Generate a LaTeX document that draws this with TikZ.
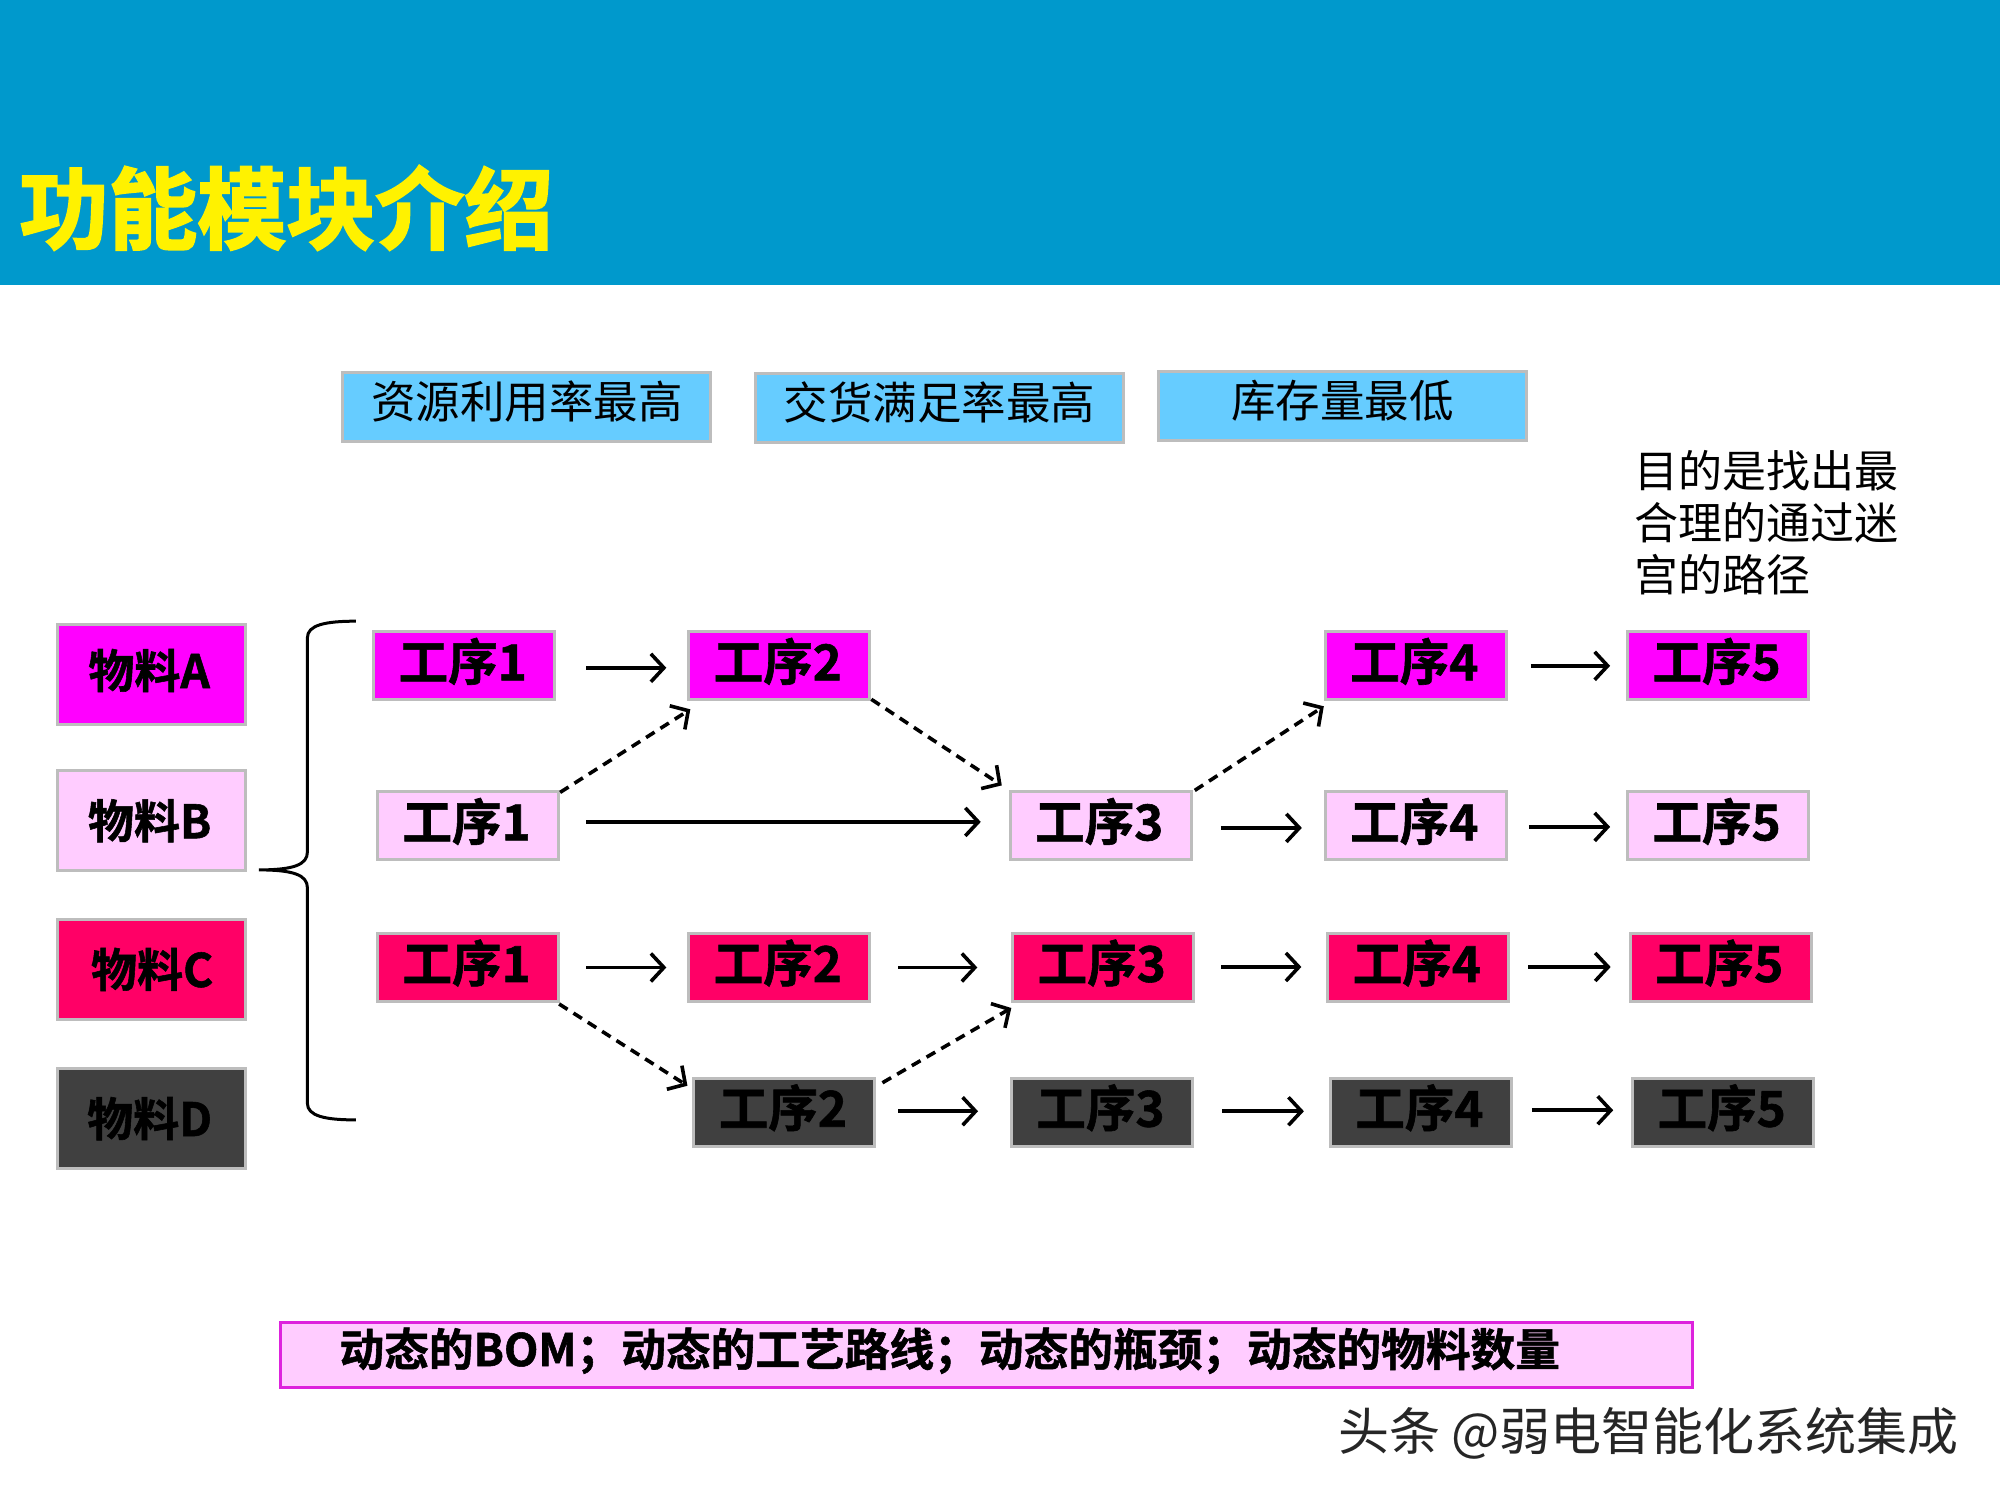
\documentclass[tikz,border=0pt]{standalone}
\usepackage{fontspec}
\setmainfont{Noto Sans CJK SC}
\newfontfamily\cjkb[FakeBold=1.2]{Noto Sans CJK SC Bold}
\newfontfamily\cjkh[FakeBold=2.2]{Noto Sans CJK SC Bold}
\usetikzlibrary{arrows.meta}
\definecolor{hdr}{HTML}{0099CC}
\definecolor{goalc}{HTML}{66CCFF}
\definecolor{mA}{HTML}{FF00FF}
\definecolor{mB}{HTML}{FFCCFF}
\definecolor{mC}{HTML}{FF0066}
\definecolor{mD}{HTML}{404040}
\definecolor{edgeg}{HTML}{BDBDBD}
\definecolor{mag}{HTML}{DD22DD}
\newcommand\up[2][14]{\raisebox{#1pt}{#2}}
\newcommand\opt[1]{\raisebox{13.5pt}{\hspace*{-3pt}#1}}
\newcommand\flow[5]{\draw[arr] ([xshift=#3pt,yshift=#5pt]#1.east) -- ([xshift=-#4pt,yshift=#5pt]#2.west);}
\tikzset{
  x=1.2755pt,y=-1.2755pt,
  goal/.style={draw=edgeg,fill=goalc,line width=3pt,minimum width=368pt,minimum height=69pt,inner sep=0pt,font=\fontsize{44.5}{48}\selectfont},
  mat/.style={draw=edgeg,line width=3pt,minimum width=188pt,minimum height=100pt,inner sep=0pt,font=\cjkb\fontsize{46}{48}\selectfont},
  op/.style={draw=edgeg,line width=3pt,minimum width=181pt,minimum height=68pt,inner sep=0pt,font=\cjkb\fontsize{49.5}{52}\selectfont},
  arr/.style={line width=3.6pt,-{Straight Barb[length=13pt,width=28pt,line width=3.6pt]}},
  dsh/.style={arr,dash pattern=on 10pt off 7pt},
  brace/.style={line width=3pt},
  plain/.style={inner sep=0pt,align=left},
}
\begin{document}
\begin{tikzpicture}
\useasboundingbox (0,0) rectangle (1568,1176);
\fill[white] (0,0) rectangle (1568,1176);
\fill[hdr] (0,0) rectangle (1568,223.5);
\node[plain,anchor=west,text=yellow,font=\cjkh\fontsize{89}{92}\selectfont] (title) at (15,163) {功能模块介绍};

\node[goal] (g1) at (413,319) {\up{资源利用率最高}};
\node[goal] (g2) at (736.5,319.5) {\up{交货满足率最高}};
\node[goal] (g3) at (1052.5,318) {\up{库存量最低}};
\node[plain,anchor=north west,font=\fontsize{44}{52}\selectfont] (note) at (1281,353) {目的是找出最\\合理的通过迷\\宫的路径};

\node[mat,fill=mA] (ma) at (118.5,529) {\up[12.5]{\hspace*{-4pt}物料A}};
\node[mat,fill=mB] (mb) at (118.5,643.5) {\up[2.5]{\hspace*{-3pt}物料B}};
\node[mat,fill=mC] (mc) at (118.5,760) {\up[-1.5]{\hspace*{2pt}物料C}};
\node[mat,fill=mD] (md) at (118.5,877) {\up[3.5]{\hspace*{-3pt}物料D}};

\coordinate (b1) at (279,487);
\coordinate (b2) at (203,682);
\coordinate (b3) at (279,878);
\draw[brace] (b1) .. controls (255,487) and (241,490) .. (241,500) -- (241,668) .. controls (241,678) and (230,682) .. (b2)
  .. controls (230,682) and (241,686) .. (241,696) -- (241,865) .. controls (241,875) and (255,878) .. (b3);

\node[op,fill=mA] (a1) at (364,522) {\opt{工序1}};
\node[op,fill=mA] (a2) at (611,522) {\opt{工序2}};
\node[op,fill=mA] (a4) at (1110,522) {\opt{工序4}};
\node[op,fill=mA] (a5) at (1347,522) {\opt{工序5}};

\node[op,fill=mB] (b1n) at (367,647.5) {\opt{工序1}};
\node[op,fill=mB] (b3n) at (863,647.5) {\opt{工序3}};
\node[op,fill=mB] (b4n) at (1110,647.5) {\opt{工序4}};
\node[op,fill=mB] (b5n) at (1347,647.5) {\opt{工序5}};

\node[op,fill=mC] (c1) at (367,758.5) {\opt{工序1}};
\node[op,fill=mC] (c2) at (611,758.5) {\opt{工序2}};
\node[op,fill=mC] (c3) at (865,758.5) {\opt{工序3}};
\node[op,fill=mC] (c4) at (1112,758.5) {\opt{工序4}};
\node[op,fill=mC] (c5) at (1349,758.5) {\opt{工序5}};

\node[op,fill=mD] (d2) at (615,872) {\opt{工序2}};
\node[op,fill=mD] (d3) at (864,872) {\opt{工序3}};
\node[op,fill=mD] (d4) at (1114,872) {\opt{工序4}};
\node[op,fill=mD] (d5) at (1351,872) {\opt{工序5}};

\flow{a1}{a2}{30}{21}{-2}
\flow{a4}{a5}{23}{16}{0}
\flow{b1n}{b3n}{26}{28}{4}
\flow{b3n}{b4n}{28}{22}{-2}
\flow{b4n}{b5n}{21}{16}{-1}
\flow{c1}{c2}{26}{21}{0}
\flow{c2}{c3}{27}{34}{0}
\flow{c3}{c4}{26}{25}{0.5}
\flow{c4}{c5}{18}{18}{0.5}
\flow{d2}{d3}{22}{32}{1}
\flow{d3}{d4}{28}{25}{1}
\flow{d4}{d5}{19}{18}{2}

\draw[dsh] ([yshift=-2pt]b1n.north east) -- ([xshift=3pt,yshift=-8pt]a2.south west);
\draw[dsh] ([yshift=2pt]a2.south east) -- ([xshift=-7pt,yshift=5pt]b3n.north west);
\draw[dsh] ([xshift=2pt]b3n.north east) -- ([yshift=-5pt]a4.south west);
\draw[dsh] ([xshift=-1pt,yshift=-1pt]c1.south east) -- ([xshift=-5pt,yshift=-9pt]d2.north west);
\draw[dsh] ([xshift=6pt,yshift=-6pt]d2.north east) -- ([yshift=-5pt]c3.south west);

\node[draw=mag,fill=mB,line width=3pt,minimum width=1412pt,minimum height=65pt,inner sep=0pt] (dyn) at (773.5,1062.5) {};
\node[plain,anchor=west,font=\cjkb\fontsize{44.7}{48}\selectfont] (dyntext) at (266,1059) {动态的BOM；动态的工艺路线；动态的瓶颈；动态的物料数量};
\node[plain,anchor=west,text=black!85,font=\fontsize{51}{54}\selectfont] (wm) at (1049,1124) {头条 @弱电智能化系统集成};
\end{tikzpicture}
\end{document}
